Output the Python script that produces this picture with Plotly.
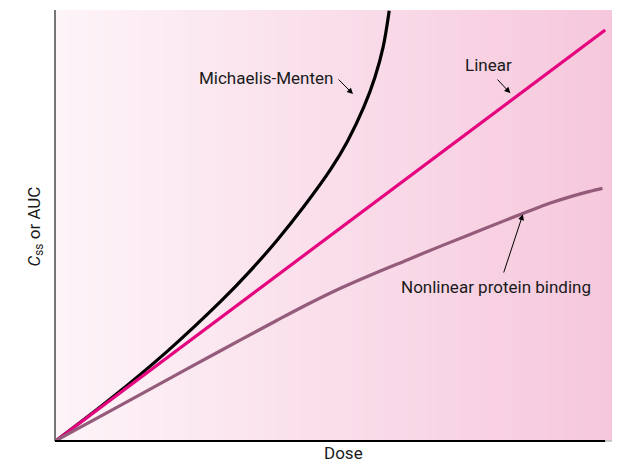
import plotly.graph_objects as go

# Dose (arbitrary units) and responses
dose_mm = [0, 1.0, 2.0, 3.0, 3.5, 4.0, 4.5, 5.0, 5.3, 5.6, 5.8, 5.95, 6.06]
css_mm = [0, 1.03, 2.15, 3.40, 4.09, 4.85, 5.69, 6.62, 7.29, 8.13, 8.85, 9.59, 10.47]

dose_lin = [0, 10.0]
css_lin = [0, 10.0]

dose_nl = [0, 1.0, 2.0, 3.0, 4.0, 4.6, 5.2, 5.8, 6.4, 7.0, 7.6, 8.2, 8.6, 9.0, 9.4, 9.7, 9.95]
css_nl = [0, 0.73, 1.46, 2.19, 2.91, 3.33, 3.72, 4.07, 4.40, 4.73, 5.05, 5.37, 5.58, 5.78, 5.95, 6.06, 6.14]

FONT = "Roboto, Liberation Sans, Arial, sans-serif"
TXT = "#1a1a1a"

fig = go.Figure()
fig.add_trace(go.Scatter(x=dose_mm, y=css_mm, mode="lines",
                         line=dict(color="black", width=3.2, shape="spline", smoothing=1.0),
                         name="Michaelis-Menten", showlegend=False))
fig.add_trace(go.Scatter(x=dose_lin, y=css_lin, mode="lines", line=dict(color="#e5067f", width=3.2),
                         name="Linear", showlegend=False))
fig.add_trace(go.Scatter(x=dose_nl, y=css_nl, mode="lines",
                         line=dict(color="#955b7b", width=3.2, shape="spline", smoothing=1.0),
                         name="Nonlinear protein binding", showlegend=False))

# gradient background strips
shapes = []
n = 120
c0 = (253, 244, 248)
c1 = (246, 199, 220)
for i in range(n):
    t = i / (n - 1)
    col = tuple(round(c0[k] + (c1[k] - c0[k]) * t) for k in range(3))
    shapes.append(dict(type="rect", xref="paper", yref="paper", x0=i / n, x1=(i + 1) / n + 0.002,
                       y0=0, y1=1, fillcolor="rgb(%d,%d,%d)" % col, line=dict(width=0), layer="below"))
# axes lines
shapes.append(dict(type="line", xref="paper", yref="paper", x0=0, x1=0, y0=0, y1=1,
                   line=dict(color="#4a4a4a", width=1.5)))
shapes.append(dict(type="line", xref="x", yref="paper", x0=-0.04, x1=10.0, y0=0, y1=0,
                   line=dict(color="black", width=2.2)))
shapes.append(dict(type="line", xref="x", yref="paper", x0=10.0, x1=10.3, y0=0, y1=0,
                   line=dict(color="#bdbdbd", width=1.5)))

annotations = [
    dict(x=3.81, y=8.83, text="Michaelis-Menten", showarrow=False, font=dict(family=FONT, size=17, color=TXT)),
    dict(x=7.87, y=9.15, text="Linear", showarrow=False, font=dict(family=FONT, size=17, color=TXT)),
    dict(x=8.0, y=3.73, text="Nonlinear protein binding", showarrow=False, font=dict(family=FONT, size=17, color=TXT)),
    dict(x=5.40, y=8.44, ax=5.11, ay=8.83, axref="x", ayref="y", text="", showarrow=True,
         arrowhead=2, arrowsize=1.2, arrowwidth=1, arrowcolor="black"),
    dict(x=8.27, y=8.46, ax=8.01, ay=8.83, axref="x", ayref="y", text="", showarrow=True,
         arrowhead=2, arrowsize=1.2, arrowwidth=1, arrowcolor="black"),
    dict(x=8.50, y=5.51, ax=8.14, ay=4.05, axref="x", ayref="y", text="", showarrow=True,
         arrowhead=2, arrowsize=1.2, arrowwidth=1, arrowcolor="black"),
    dict(xref="paper", yref="paper", x=0.51, y=-0.056, text="Dose", showarrow=False,
         font=dict(family=FONT, size=17, color=TXT)),
    dict(xref="paper", yref="paper", x=-0.058, y=0.497, text="<i>C</i><sub>ss</sub> or AUC", textangle=-90,
         showarrow=False, font=dict(family=FONT, size=17, color=TXT)),
]

fig.update_layout(
    width=620, height=474,
    margin=dict(l=47, r=8, t=2, b=41),
    paper_bgcolor="white", plot_bgcolor="rgba(0,0,0,0)",
    shapes=shapes, annotations=annotations,
    xaxis=dict(range=[-0.036, 10.27], showgrid=False, zeroline=False, showticklabels=False, ticks="", showline=False),
    yaxis=dict(range=[-0.024, 10.49], showgrid=False, zeroline=False, showticklabels=False, ticks="", showline=False),
)

fig.write_html("out.html")
